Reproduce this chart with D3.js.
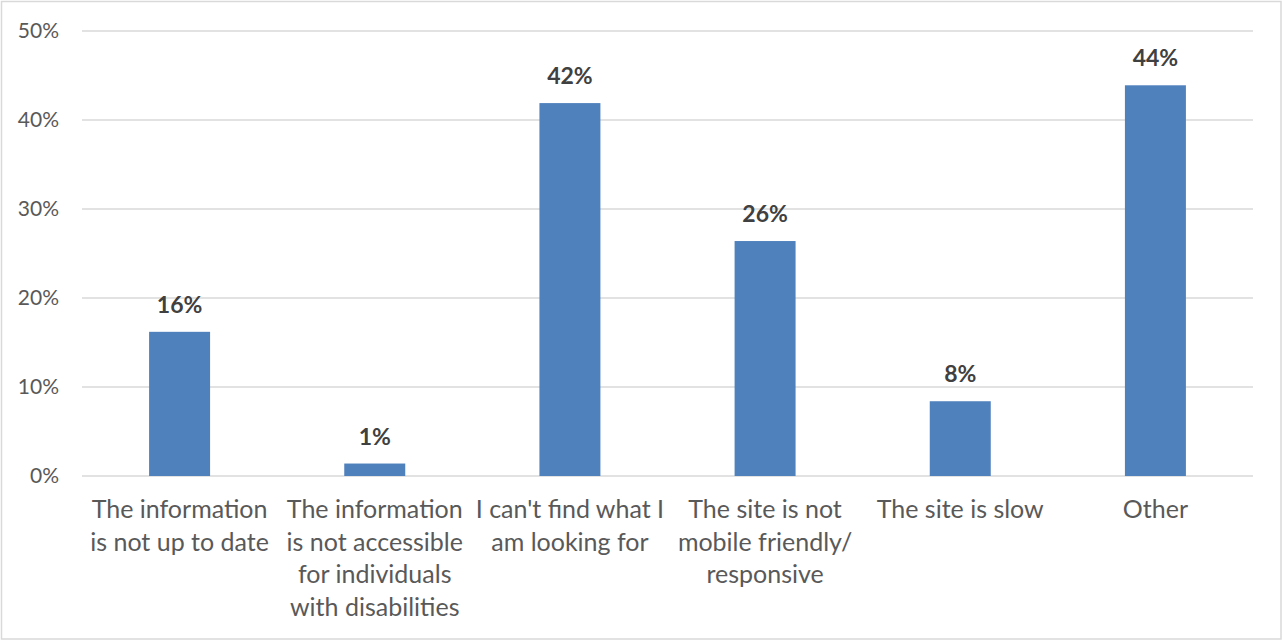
<!DOCTYPE html>
<html>
<head>
<meta charset="utf-8">
<script src="https://cdn.jsdelivr.net/npm/d3@7"></script>
<style>
  body { margin: 0; background: #fff; }
  svg { display: block; font-family: Lato, "Open Sans", sans-serif; }
</style>
</head>
<body>
<div id="chart"></div>
<script>
// Chart data
const categories = [
    ["The information", "is not up to date"],
    ["The information", "is not accessible", "for individuals", "with disabilities"],
    ["I can't find what I", "am looking for"],
    ["The site is not", "mobile friendly/", "responsive"],
    ["The site is slow"],
    ["Other"]
];
const values = [16.2, 1.4, 41.9, 26.4, 8.4, 43.9];
const yTicks = [0, 10, 20, 30, 40, 50];

const width = 1283;
const height = 641;
const margin = { top: 31, right: 30, bottom: 165, left: 82 };

const usableArea = {
    top: margin.top,
    right: width - margin.right,
    bottom: height - margin.bottom,
    left: margin.left
};

const svg = d3.select('#chart')
    .append('svg')
    .attr('width', width)
    .attr('height', height);

// outer frame
svg.append('rect')
    .attr('x', 1.5).attr('y', 1.5)
    .attr('width', width - 3.5).attr('height', height - 3.5)
    .attr('fill', '#fff')
    .attr('stroke', '#d9d9d9')
    .attr('stroke-width', 1.5);

const xScale = d3.scaleBand()
    .domain(d3.range(categories.length))
    .range([usableArea.left, usableArea.right])
    .paddingInner(0.6875)
    .paddingOuter(0.6875 / 2);

const yScale = d3.scaleLinear()
    .domain([0, 50])
    .range([usableArea.bottom, usableArea.top]);

// gridlines
svg.append('g')
    .attr('class', 'gridlines')
    .selectAll('line')
    .data(yTicks)
    .join('line')
    .attr('x1', usableArea.left)
    .attr('x2', usableArea.right)
    .attr('y1', d => yScale(d))
    .attr('y2', d => yScale(d))
    .attr('stroke', '#d9d9d9')
    .attr('stroke-width', 1.3);

// y axis labels
const yAxis = d3.axisLeft(yScale)
    .tickValues(yTicks)
    .tickFormat(d => d + '%')
    .tickSize(0)
    .tickPadding(23);

svg.append('g')
    .attr('transform', `translate(${usableArea.left}, 0)`)
    .call(yAxis)
    .call(g => g.select('.domain').remove())
    .call(g => g.selectAll('text')
        .attr('fill', '#595959')
        .style('font-size', '21px')
        .style('font-family', 'Lato, sans-serif'));

// bars
svg.append('g')
    .selectAll('rect')
    .data(values)
    .join('rect')
    .attr('x', (d, i) => xScale(i))
    .attr('width', xScale.bandwidth())
    .attr('y', d => yScale(d))
    .attr('height', d => yScale(0) - yScale(d))
    .attr('fill', '#4f81bd');

// data labels
svg.append('g')
    .selectAll('text')
    .data(values)
    .join('text')
    .attr('x', (d, i) => xScale(i) + xScale.bandwidth() / 2)
    .attr('y', d => yScale(d) - 19)
    .attr('text-anchor', 'middle')
    .attr('fill', '#404040')
    .style('font-size', '23px')
    .style('font-weight', 'bold')
    .text(d => Math.round(d) + '%');

// category labels
const catLabels = svg.append('g')
    .selectAll('text')
    .data(categories)
    .join('text')
    .attr('x', (d, i) => xScale(i) + xScale.bandwidth() / 2)
    .attr('y', usableArea.bottom + 42)
    .attr('text-anchor', 'middle')
    .attr('fill', '#595959')
    .style('font-size', '25px');

catLabels.selectAll('tspan')
    .data(d => d)
    .join('tspan')
    .attr('x', function () { return this.parentNode.getAttribute('x'); })
    .attr('dy', (d, i) => i === 0 ? 0 : 32.7)
    .text(d => d);
</script>
</body>
</html>
